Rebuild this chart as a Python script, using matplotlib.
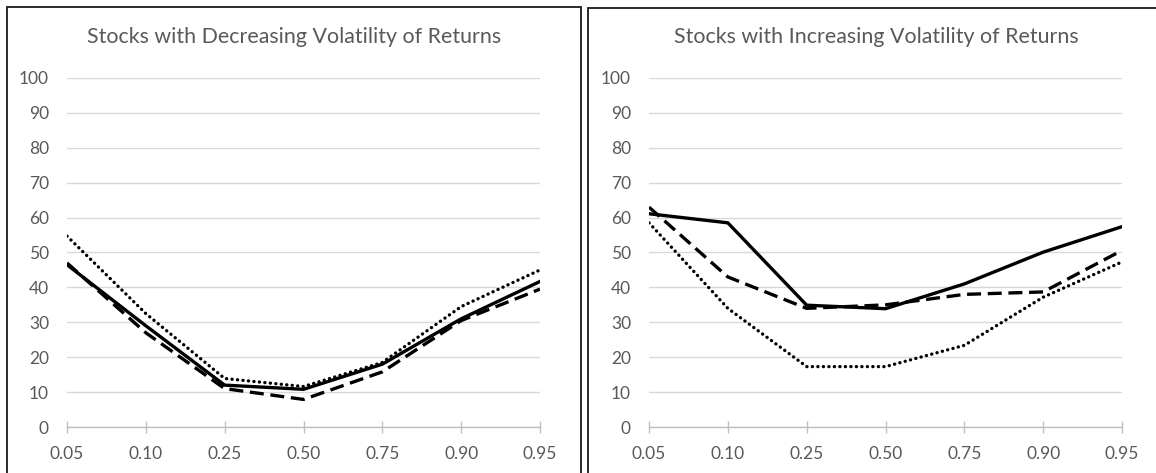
import numpy as np
import matplotlib.pyplot as plt
from matplotlib.patches import Rectangle

quantiles = ["0.05", "0.10", "0.25", "0.50", "0.75", "0.90", "0.95"]

# stocks whose volatility of returns is decreasing
dec_solid = [46.5, 29, 12, 10.8, 18, 31, 41.7]
dec_dashed = [47, 27, 11, 7.9, 15.8, 30.5, 39.5]
dec_dotted = [54.7, 32.5, 13.9, 11.6, 18.5, 34.5, 45]

# stocks whose volatility of returns is increasing
inc_solid = [61.1, 58.5, 34.9, 33.9, 41, 50.1, 57.4]
inc_dashed = [63, 43, 34, 35, 38, 38.7, 50.6]
inc_dotted = [58.5, 34, 17.3, 17.3, 23.4, 37.2, 47.3]

titles = ["Stocks with Decreasing Volatility of Returns",
          "Stocks with Increasing Volatility of Returns"]

plt.rcParams['font.family'] = ['Lato', 'DejaVu Sans']
text_grey = '#595959'

W, H = 1156, 473
fig = plt.figure(figsize=(W / 100, H / 100), dpi=100)

# panel frames (pixel boxes converted to figure fractions)
def px_rect(x0, y0, x1, y1):
    return Rectangle((x0 / W, 1 - y1 / H), (x1 - x0) / W, (y1 - y0) / H,
                     transform=fig.transFigure, fill=False, edgecolor='#1a1a1a',
                     linewidth=1.3, clip_on=False)

fig.patches.append(px_rect(7, 7, 581, 490))
fig.patches.append(px_rect(588, 8, 1170, 490))

panels = [
    (67, 7, 581, dec_solid, dec_dashed, dec_dotted, titles[0]),
    (649, 588, 1164, inc_solid, inc_dashed, inc_dotted, titles[1]),
]

x = np.arange(len(quantiles))
for left_px, frame_l, frame_r, solid, dashed, dotted, title in panels:
    ax = fig.add_axes([left_px / W, (H - 427) / H, 473 / W, (427 - 78) / H])
    ax.plot(x, solid, color='black', lw=2.4, solid_joinstyle='miter')
    ax.plot(x, dashed, color='black', lw=2.4, linestyle=(0, (4.2, 2.0)))
    ax.plot(x, dotted, color='black', lw=2.4, linestyle=(0, (0.05, 1.6)),
            dash_capstyle='round')

    ax.set_xlim(0, len(quantiles) - 1)
    ax.set_ylim(0, 100)
    ax.set_yticks(range(0, 101, 10))
    ax.set_xticks(x)
    ax.set_xticklabels(quantiles)
    ax.grid(axis='y', color='#d9d9d9', lw=1)
    ax.set_axisbelow(True)
    for s in ['top', 'right', 'left']:
        ax.spines[s].set_visible(False)
    ax.spines['bottom'].set_color('#bfbfbf')
    ax.spines['bottom'].set_linewidth(1)
    ax.tick_params(axis='y', length=0, pad=13, labelsize=12.5, labelcolor=text_grey)
    ax.tick_params(axis='x', direction='inout', length=8, width=1, color='#bfbfbf',
                   pad=10, labelsize=12.5, labelcolor=text_grey)

    cx = (frame_l + frame_r) / 2 / W
    fig.text(cx, 1 - 37 / H, title, ha='center', va='center', fontsize=15.4,
             color=text_grey)

fig.savefig('out.png', dpi=100)
